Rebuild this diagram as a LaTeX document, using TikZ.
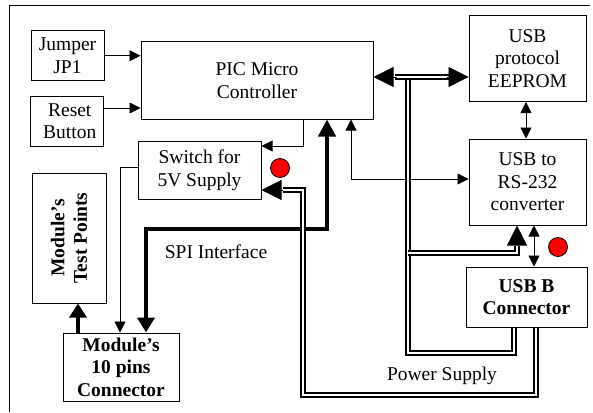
\documentclass[tikz,border=0pt]{standalone}
\usepackage{fontspec}
\setmainfont{Liberation Serif}
\usetikzlibrary{arrows.meta}
\begin{document}
\begin{tikzpicture}[x=1pt,y=-1pt,
  txt/.style={font=\fontsize{19.5}{22.5}\selectfont},
  box/.style={draw, line width=1pt, align=center, inner sep=0pt, txt},
  bbox/.style={box, font=\fontsize{19.5}{22.5}\selectfont\bfseries},
  sig/.style={line width=0.8pt, -{Triangle[length=11pt,width=11pt]}},
  sigboth/.style={line width=0.8pt, {Triangle[length=11pt,width=11pt]}-{Triangle[length=11pt,width=11pt]}},
  bus/.style={line width=4.7pt, -{Triangle[length=14pt,width=17pt]}},
  busboth/.style={line width=4.7pt, {Triangle[length=15pt,width=17pt]}-{Triangle[length=17pt,width=17pt]}},
  pwr/.style={double, line width=1.4pt, double distance=2.4pt},
  bigtip/.style={line width=0.8pt, -{Triangle[length=20pt,width=20pt]}},
  dot/.style={circle, fill=red, draw=black, line width=0.8pt, minimum size=19pt, inner sep=0pt}]
\useasboundingbox (0,0) rectangle (593,412);
% frame
\draw[line width=1pt] (9,412) -- (9,6) -- (590,6);
% blocks
\node[box, minimum width=73pt, minimum height=50pt] (jp) at (67.5,55.7) {Jumper\\JP1};
\node[box, minimum width=73pt, minimum height=50pt] (reset) at (66.5,121) {\,\,Reset\\\,\,Button};
\node[box, minimum width=232pt, minimum height=77pt] (pic) at (257,80.5) {PIC Micro\\Controller};
\node[box, minimum width=123pt, minimum height=58pt] (sw) at (199.5,170) {Switch for\\5V Supply};
\node[bbox, rotate=90, minimum width=130pt, minimum height=74pt] (tp) at (69,238) {Module’s\\Test Points};
\node[bbox, minimum width=116pt, minimum height=68pt] (conn) at (121,367) {Module’s\\10 pins\\Connector};
\node[box, minimum width=117pt, minimum height=86pt] (eep) at (527.5,58.5) {USB\\protocol\\EEPROM};
\node[box, minimum width=117pt, minimum height=86pt] (rs) at (527.5,182) {USB to\\RS-232\\converter};
\node[bbox, minimum width=121pt, minimum height=60pt] (usbb) at (526.5,297) {USB B\\Connector};
% labels
\node[txt] (spi) at (216,252) {SPI Interface};
\node[txt] (ps) at (442,376) {Power Supply};
% red markers
\node[dot] (d1) at (280,168) {};
\node[dot] (d2) at (558,247) {};
% signal connectors
\draw[sig] (jp.east) -- (jp.east -| pic.west);
\draw[sig] (reset.east |- 0,108) -- (pic.west |- 0,108);
\draw[sig] (pic.south -| 303,0) |- (sw.east |- 0,146);
\draw[sig] (sw.west |- 0,167) -| (conn.north -| 120,0);
\draw[bus] (conn.north -| 78,0) -- (tp.west -| 78,0);
\draw[busboth] (conn.north -| 146,0) |- (327,229) -- (pic.south -| 327,0);
\draw[sigboth] (pic.south -| 351,0) |- (rs.west |- 0,179);
\draw[sigboth] (eep.south -| 526,0) -- (rs.north -| 526,0);
\draw[sigboth] (rs.south -| 534,0) -- (usbb.north -| 534,0);
% power supply lines
\draw[pwr] (usbb.south -| 514,0) |- (408,353) -- (408,77);
\draw[pwr] (408,253) -| (517,246);
\draw[bigtip] (517,246) -- (rs.south -| 517,0);
\draw[pwr] (usbb.south -| 536,0) |- (303,395) |- (283,190);
\draw[bigtip] (283,190) -- (sw.east |- 0,190);
% PIC <-> EEPROM
\draw[pwr] (395,77) -- (449,77);
\draw[bigtip] (397,77) -- (pic.east |- 0,77);
\draw[bigtip] (447,77) -- (eep.west |- 0,77);
\end{tikzpicture}
\end{document}
